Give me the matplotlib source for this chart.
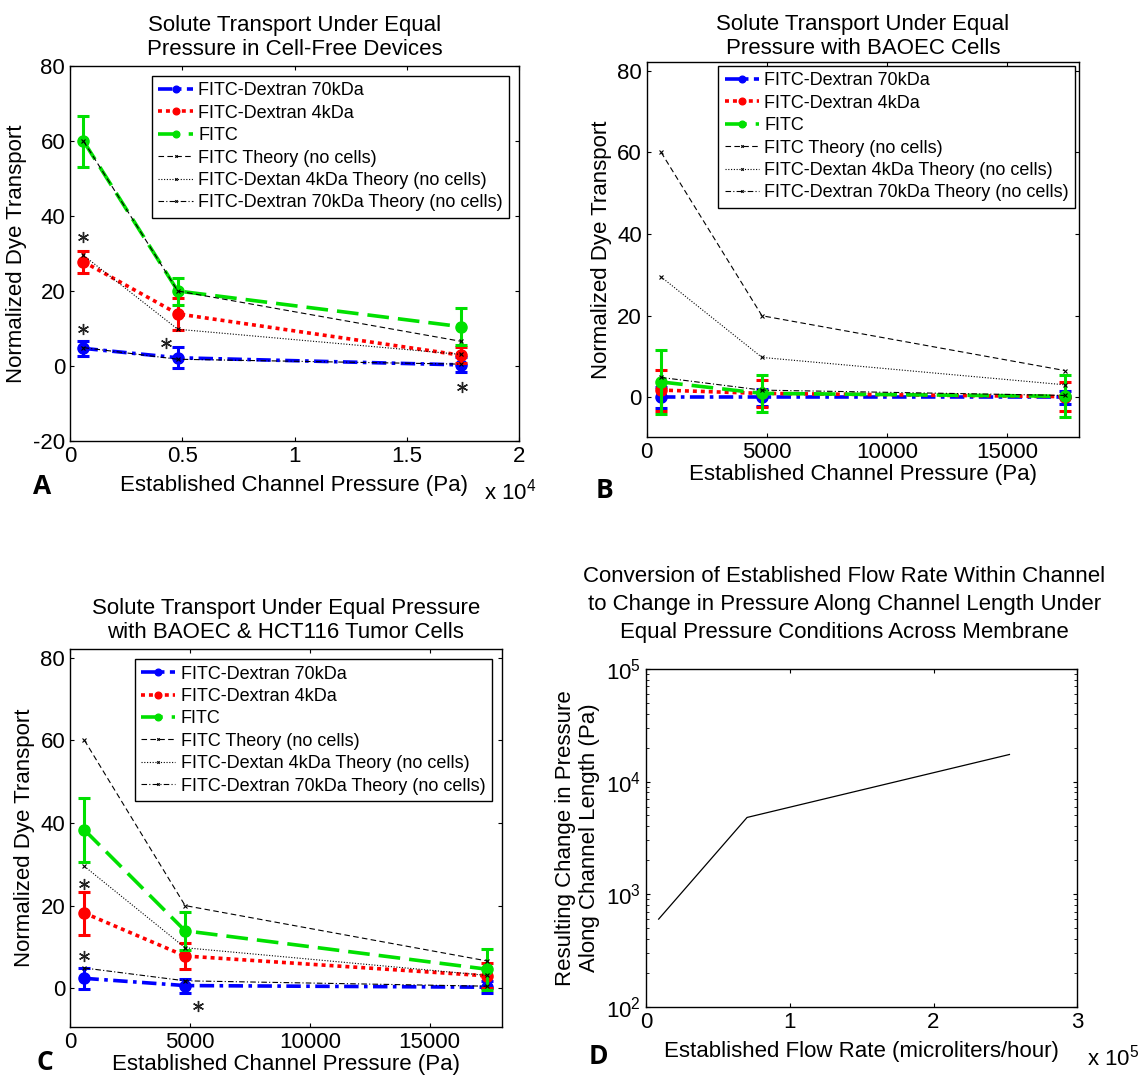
import numpy as np
import matplotlib
matplotlib.use("Agg")
import matplotlib.pyplot as plt
from matplotlib.ticker import FuncFormatter

plt.rcParams['font.family'] = ['Liberation Sans', 'DejaVu Sans']
plt.rcParams['mathtext.default'] = 'regular'
plt.rcParams['axes.unicode_minus'] = False

# --- data ---
pressure = [600, 4800, 17400]
flow_rate = [8800, 70300, 252800]

series_names = ['FITC-Dextran 70kDa', 'FITC-Dextran 4kDa', 'FITC']
theory_names = ['FITC Theory (no cells)', 'FITC-Dextan 4kDa Theory (no cells)',
                'FITC-Dextran 70kDa Theory (no cells)']

theory_fitc = [60, 20, 6.6]
theory_4kda = [29.5, 9.8, 3.1]
theory_70kda = [4.9, 1.8, 0.5]

# panel A: cell-free
a_70kda = [4.7, 2.2, 0.3]
a_70kda_err = [2.1, 2.8, 2.0]
a_4kda = [27.8, 13.9, 2.9]
a_4kda_err = [3.0, 4.2, 2.2]
a_fitc = [60, 20, 10.5]
a_fitc_err = [6.8, 3.6, 4.9]
a_star_x = [600, 600, 4270, 17450]
a_star_y = [34.5, 9.8, 6.1, -5.5]

# panel B: BAOEC
b_70kda = [0, 0, 0]
b_70kda_err = [2.5, 2.0, 1.5]
b_4kda = [1.8, 1.0, 0.2]
b_4kda_err = [5.0, 3.3, 3.5]
b_fitc = [3.8, 1.0, 0.3]
b_fitc_err = [7.8, 4.5, 5.2]

# panel C: BAOEC + HCT116
c_70kda = [2.4, 0.65, 0.25]
c_70kda_err = [2.5, 1.7, 1.4]
c_4kda = [18.2, 7.8, 3.0]
c_4kda_err = [5.2, 3.1, 3.0]
c_fitc = [38.3, 13.9, 4.6]
c_fitc_err = [7.7, 4.6, 5.0]
c_star_x = [600, 600, 5350]
c_star_y = [25.2, 7.7, -4.2]

FS = 16

fig = plt.figure(figsize=(11.44, 10.78), dpi=100)
W, H = 1144.0, 1078.0


def add_ax(left, top, right, bottom):
    return fig.add_axes([left / W, 1 - bottom / H, (right - left) / W, (bottom - top) / H])


def style_ax(ax):
    ax.tick_params(direction='in', top=True, right=True, labelsize=FS, length=3, width=0.8)
    for s in ax.spines.values():
        s.set_linewidth(1.0)


def transport_panel(ax, vals70, err70, vals4, err4, valsf, errf, star_x=None, star_y=None):
    specs = [
        (vals70, err70, 'blue', (4, 1.5, 1, 1.5)),
        (vals4, err4, 'red', (1.1, 1.1)),
        (valsf, errf, '#00e000', (6, 2.5)),
    ]
    for (v, e, c, d), name in zip(specs, series_names):
        ax.errorbar(pressure, v, yerr=e, fmt='none', ecolor=c, elinewidth=2.2,
                    capsize=4, capthick=2.2)
        ax.plot(pressure, v, color=c, lw=2.6, dashes=d, marker='o', ms=8,
                mfc=c, mec=c, label=name)
    tspecs = [(theory_fitc, (5, 3)), (theory_4kda, (1, 1.5)), (theory_70kda, (5, 2, 1, 2))]
    for (v, d), name in zip(tspecs, theory_names):
        ax.plot(pressure, v, color='k', lw=0.8, dashes=d, marker='x', ms=3, mew=0.8,
                label=name)
    if star_x is not None:
        ax.plot(star_x, star_y, ls='none', marker=(6, 2, 0), ms=8, mew=1, color='#222222')
    ax.set_ylabel('Normalized Dye Transport', fontsize=FS)
    style_ax(ax)


def add_legend(ax, pad):
    leg = ax.legend(loc='upper right', fontsize=13, fancybox=False, edgecolor='k',
                    framealpha=1, labelspacing=0.3, borderpad=0.35, handlelength=1.9,
                    handletextpad=0.3, borderaxespad=pad, markerscale=0.6)
    leg.get_frame().set_linewidth(1.0)


# ---- A ----
axA = add_ax(70, 66, 519, 441)
transport_panel(axA, a_70kda, a_70kda_err, a_4kda, a_4kda_err, a_fitc, a_fitc_err,
                a_star_x, a_star_y)
axA.set_xlim(0, 20000)
axA.set_ylim(-20, 80)
axA.set_yticks([-20, 0, 20, 40, 60, 80])
axA.set_xticks([0, 5000, 10000, 15000, 20000])
axA.xaxis.set_major_formatter(FuncFormatter(lambda v, p: '%g' % (v / 1e4)))
axA.set_xlabel('Established Channel Pressure (Pa)', fontsize=FS, labelpad=6)
axA.set_title('Solute Transport Under Equal\nPressure in Cell-Free Devices', fontsize=FS, pad=8)
add_legend(axA, 0.55)

# ---- B ----
axB = add_ax(646.7, 62.4, 1079, 436.7)
transport_panel(axB, b_70kda, b_70kda_err, b_4kda, b_4kda_err, b_fitc, b_fitc_err)
axB.set_xlim(0, 18000)
axB.set_ylim(-9.6, 82)
axB.set_yticks([0, 20, 40, 60, 80])
axB.set_xticks([0, 5000, 10000, 15000])
axB.set_xlabel('Established Channel Pressure (Pa)', fontsize=FS, labelpad=1)
axB.set_title('Solute Transport Under Equal\nPressure with BAOEC Cells', fontsize=FS, pad=6)
add_legend(axB, 0.2)

# ---- C ----
axC = add_ax(70, 649.3, 501.7, 1026.7)
transport_panel(axC, c_70kda, c_70kda_err, c_4kda, c_4kda_err, c_fitc, c_fitc_err,
                c_star_x, c_star_y)
axC.set_xlim(0, 18000)
axC.set_ylim(-9.3, 82)
axC.set_yticks([0, 20, 40, 60, 80])
axC.set_xticks([0, 5000, 10000, 15000])
axC.set_xlabel('Established Channel Pressure (Pa)', fontsize=FS, labelpad=1)
axC.set_title('Solute Transport Under Equal Pressure\nwith BAOEC & HCT116 Tumor Cells',
              fontsize=FS, pad=8)
add_legend(axC, 0.55)

# ---- D ----
axD = add_ax(646, 669, 1077.3, 1006.7)
axD.plot(flow_rate, pressure, color='k', lw=0.9)
axD.set_yscale('log')
axD.set_xlim(0, 300000)
axD.set_ylim(1e2, 1e5)
axD.set_xticks([0, 100000, 200000, 300000])
axD.xaxis.set_major_formatter(FuncFormatter(lambda v, p: '%g' % (v / 1e5)))
style_ax(axD)
axD.tick_params(which='minor', direction='in', top=True, right=True, length=2)
axD.set_xlabel('Established Flow Rate (microliters/hour)', fontsize=FS, labelpad=6)
axD.set_ylabel('Resulting Change in Pressure\nAlong Channel Length (Pa)', fontsize=FS)
axD.set_title('Conversion of Established Flow Rate Within Channel\n'
              'to Change in Pressure Along Channel Length Under\n'
              'Equal Pressure Conditions Across Membrane', fontsize=FS, pad=22, x=0.46,
              linespacing=1.45)

# exponent labels
fig.text(510 / W, 1 - 492 / H, 'x 10$^4$', fontsize=FS, ha='center', va='center')
fig.text(1113 / W, 1 - 1058 / H, 'x 10$^5$', fontsize=FS, ha='center', va='center')

# panel letters
for lab, x, y in [('A', 42, 487), ('B', 605, 490), ('C', 45, 1063), ('D', 598, 1057)]:
    fig.text(x / W, 1 - y / H, lab, fontsize=19, fontweight='bold', ha='center',
             va='center', family=['Open Sans', 'DejaVu Sans'])

fig.savefig('out.png', dpi=100)
